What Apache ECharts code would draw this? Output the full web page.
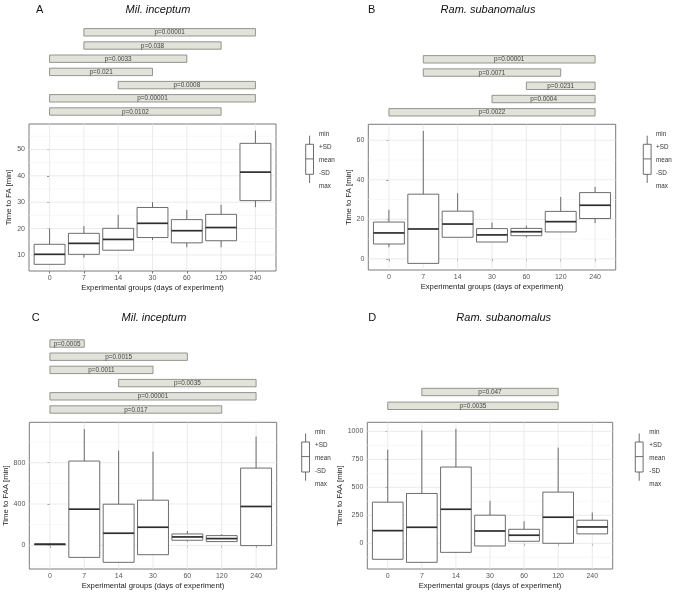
<!DOCTYPE html>
<html><head><meta charset="utf-8">
<script src="https://cdn.jsdelivr.net/npm/echarts@6/dist/echarts.min.js"></script>
<style>html,body{margin:0;padding:0;background:#fff}#c{width:678px;height:598px}</style>
</head><body><div id="c"></div>
<script>
// ---------------- DATA ----------------
const categories = ['0', '7', '14', '30', '60', '120', '240'];
const legendLabels = ['min', '+SD', 'mean', '-SD', 'max'];

// Panel A: Mil. inceptum, Time to FA [min]
const A_whiskerTop    = [20, 21, 25.2, 30, 27.1, 29, 57.1];
const A_sdUpper       = [14.05, 18.2, 20.1, 28, 23.4, 25.4, 52.3];
const A_mean          = [10.25, 14.4, 15.9, 22, 19.2, 20.4, 41.4];
const A_sdLower       = [6.46, 10.25, 11.8, 16.6, 14.6, 15.4, 30.6];
const A_whiskerBottom = [6.46, 9, 11.8, 15.7, 12.9, 12.9, 28.1];
const A_yTicks = [10, 20, 30, 40, 50];
const A_sig = [[1, 6, 'p=0.00001'], [1, 5, 'p=0.038'], [0, 4, 'p=0.0033'], [0, 3, 'p=0.021'], [2, 6, 'p=0.0008'], [0, 6, 'p=0.00001'], [0, 5, 'p=0.0102']];

// Panel B: Ram. subanomalus, Time to FA [min]
const B_whiskerTop    = [24.8, 64.7, 33.2, 18.3, 16.8, 31.3, 36.4];
const B_sdUpper       = [18.6, 32.7, 24.1, 15.3, 15.4, 24.0, 33.5];
const B_mean          = [13.1, 15.1, 17.6, 12.1, 13.7, 18.8, 27.1];
const B_sdLower       = [7.5, -2.3, 10.9, 8.5, 11.7, 13.6, 20.4];
const B_whiskerBottom = [5.9, -2.3, 10.9, 8.5, 10.9, 13.6, 18.1];
const B_yTicks = [0, 20, 40, 60];
const B_sig = [[1, 6, 'p=0.00001'], [1, 5, 'p=0.0071'], [4, 6, 'p=0.0231'], [3, 6, 'p=0.0004'], [0, 6, 'p=0.0022']];

// Panel C: Mil. inceptum, Time to FAA [min]
const C_whiskerTop    = [14, 1127, 917, 907, 139, 107, 1053];
const C_sdUpper       = [14, 816, 398, 437, 110, 94, 748];
const C_mean          = [10, 350, 117, 175, 81, 65, 376];
const C_sdLower       = [6, -117, -165, -91, 49, 36, -3];
const C_whiskerBottom = [6, -117, -165, -91, 36, 36, -3];
const C_yTicks = [0, 400, 800];
const C_sig = [[0, 1, 'p=0.0005'], [0, 4, 'p=0.0015'], [0, 3, 'p=0.0011'], [2, 6, 'p=0.0035'], [0, 6, 'p=0.00001'], [0, 5, 'p=0.017']];

// Panel D: Ram. subanomalus, Time to FAA [min]
const D_whiskerTop    = [836, 1009, 1021, 379, 197, 854, 275];
const D_sdUpper       = [367, 445, 681, 251, 125, 457, 206];
const D_mean          = [113, 143, 304, 110, 72, 233, 146];
const D_sdLower       = [-143, -170, -81, -24, 18, 0, 84];
const D_whiskerBottom = [-143, -170, -81, -24, 18, 0, 84];
const D_yTicks = [0, 250, 500, 750, 1000];
const D_sig = [[1, 5, 'p=0.047'], [0, 5, 'p=0.0035']];

// ---------------- LAYOUT ----------------
const FONT = 'Liberation Sans, Arial, sans-serif';
const panels = [
  { letter: 'A', species: 'Mil. inceptum', yName: 'Time to FA [min]',
    d: [A_whiskerTop, A_sdUpper, A_mean, A_sdLower, A_whiskerBottom], ticks: A_yTicks, sig: A_sig,
    grid: { left: 29, top: 124, width: 247, height: 147 }, sigGrid: { top: 25.7, height: 92.4 },
    letterPos: [36, 10], speciesX: 158, titleY: 10, key: { x: 305.7, labelX: 319, base: 134.3 } },
  { letter: 'B', species: 'Ram. subanomalus', yName: 'Time to FA [min]',
    d: [B_whiskerTop, B_sdUpper, B_mean, B_sdLower, B_whiskerBottom], ticks: B_yTicks, sig: B_sig,
    grid: { left: 368.3, top: 124.3, width: 247.4, height: 145.7 }, sigGrid: { top: 52.7, height: 66.2 },
    letterPos: [368, 10], speciesX: 488, titleY: 10, key: { x: 643.3, labelX: 656, base: 134.3 } },
  { letter: 'C', species: 'Mil. inceptum', yName: 'Time to FAA [min]',
    d: [C_whiskerTop, C_sdUpper, C_mean, C_sdLower, C_whiskerBottom], ticks: C_yTicks, sig: C_sig,
    grid: { left: 29.3, top: 422.3, width: 247.4, height: 146.7 }, sigGrid: { top: 336.9, height: 79.2 },
    letterPos: [31.7, 318.3], speciesX: 154, titleY: 318.3, key: { x: 301.7, labelX: 315, base: 432 } },
  { letter: 'D', species: 'Ram. subanomalus', yName: 'Time to FAA [min]',
    d: [D_whiskerTop, D_sdUpper, D_mean, D_sdLower, D_whiskerBottom], ticks: D_yTicks, sig: D_sig,
    grid: { left: 367.3, top: 422.3, width: 245.4, height: 146.7 }, sigGrid: { top: 385.1, height: 27.6 },
    letterPos: [368.3, 318.3], speciesX: 503.7, titleY: 318.3, key: { x: 635.3, labelX: 649.3, base: 432 } }
];

// ---------------- BUILD ----------------
const grids = [], xAxes = [], yAxes = [], series = [], graphics = [];
const catIdx = categories.map((c, i) => i);
const BOX_STROKE = '#5c5c5c', MEAN_STROKE = '#2e2e2e';

panels.forEach((p, pi) => {
  const all = [].concat(...p.d);
  const lo = Math.min(...all), hi = Math.max(...all), r = hi - lo;
  const yMin = lo - 0.05 * r, yMax = hi + 0.05 * r;
  const step = p.ticks[1] - p.ticks[0];
  const minor = p.ticks.map(t => t - step / 2).concat([p.ticks[p.ticks.length - 1] + step / 2]).filter(v => v > yMin && v < yMax);
  const major = p.ticks;

  const gMain = grids.length;
  grids.push(Object.assign({ show: true, borderColor: '#7a7a7a', borderWidth: 1, backgroundColor: 'transparent', containLabel: false }, p.grid));
  const gSig = grids.length;
  grids.push({ left: p.grid.left, width: p.grid.width, top: p.sigGrid.top, height: p.sigGrid.height, show: false, containLabel: false });

  xAxes.push({
    gridIndex: gMain, type: 'value', min: -0.6, max: 6.6,
    axisLine: { show: false }, splitLine: { show: false },
    axisTick: { show: true, length: 2.5, customValues: catIdx, lineStyle: { color: '#555', width: 0.8 } },
    axisLabel: { show: true, customValues: catIdx, formatter: v => categories[Math.round(v)], margin: 3.5, fontSize: 7, color: '#555', fontFamily: FONT },
    name: 'Experimental groups (days of experiment)', nameLocation: 'middle', nameGap: 12.5,
    nameTextStyle: { fontSize: 7.7, color: '#222', fontFamily: FONT }
  });
  yAxes.push({
    gridIndex: gMain, type: 'value', min: yMin, max: yMax,
    axisLine: { show: false }, splitLine: { show: false },
    axisTick: { show: true, length: 2.5, customValues: p.ticks, lineStyle: { color: '#555', width: 0.8 } },
    axisLabel: { show: true, customValues: p.ticks, formatter: v => String(v), margin: 4, fontSize: 7, color: '#555', fontFamily: FONT },
    name: p.yName, nameLocation: 'middle', nameGap: 15,
    nameTextStyle: { fontSize: 7.7, color: '#222', fontFamily: FONT }
  });
  const xMain = xAxes.length - 1, yMainI = yAxes.length - 1;

  xAxes.push({ gridIndex: gSig, type: 'value', min: -0.6, max: 6.6, show: false });
  yAxes.push({ gridIndex: gSig, type: 'value', min: -0.5, max: p.sig.length - 0.5, inverse: true, show: false });
  const xSig = xAxes.length - 1, ySig = yAxes.length - 1;

  // gridlines (minor + major horizontal, major vertical at categories)
  const gl = [];
  minor.forEach(v => gl.push([0, v, 0]));
  major.forEach(v => gl.push([0, v, 1]));
  catIdx.forEach(i => gl.push([1, i, 1]));
  series.push({
    type: 'custom', xAxisIndex: xMain, yAxisIndex: yMainI, z: 1, silent: true, clip: true,
    data: gl,
    renderItem: (params, api) => {
      const kind = api.value(0), v = api.value(1), isMajor = api.value(2);
      let a, b;
      if (kind === 0) { a = api.coord([-0.6, v]); b = api.coord([6.6, v]); }
      else { a = api.coord([v, yMin]); b = api.coord([v, yMax]); }
      return { type: 'line', shape: { x1: a[0], y1: a[1], x2: b[0], y2: b[1] },
        style: { stroke: isMajor ? '#e6e6e6' : '#f3f3f3', lineWidth: isMajor ? 0.8 : 0.6 } };
    }
  });

  // boxes
  const boxData = catIdx.map(i => [i, p.d[0][i], p.d[1][i], p.d[2][i], p.d[3][i], p.d[4][i]]);
  series.push({
    type: 'custom', xAxisIndex: xMain, yAxisIndex: yMainI, z: 3, silent: true,
    data: boxData,
    renderItem: (params, api) => {
      const x = api.value(0), wt = api.value(1), su = api.value(2), mn = api.value(3), sl = api.value(4), wb = api.value(5);
      const hw = 0.45;
      const tl = api.coord([x - hw, su]), br = api.coord([x + hw, sl]);
      const pwt = api.coord([x, wt]), psu = api.coord([x, su]), psl = api.coord([x, sl]), pwb = api.coord([x, wb]);
      const ml = api.coord([x - hw, mn]), mr = api.coord([x + hw, mn]);
      return { type: 'group', children: [
        { type: 'line', shape: { x1: pwt[0], y1: pwt[1], x2: psu[0], y2: psu[1] }, style: { stroke: BOX_STROKE, lineWidth: 0.9 } },
        { type: 'line', shape: { x1: pwb[0], y1: pwb[1], x2: psl[0], y2: psl[1] }, style: { stroke: BOX_STROKE, lineWidth: 0.9 } },
        { type: 'rect', shape: { x: tl[0], y: tl[1], width: br[0] - tl[0], height: br[1] - tl[1] }, style: { fill: '#fff', stroke: BOX_STROKE, lineWidth: 0.9 } },
        { type: 'line', shape: { x1: ml[0], y1: ml[1], x2: mr[0], y2: mr[1] }, style: { stroke: MEAN_STROKE, lineWidth: 1.7 } }
      ] };
    }
  });

  // significance bars
  const sigData = p.sig.map((s, k) => [s[0], s[1], k]);
  const sigLabels = p.sig.map(s => s[2]);
  series.push({
    type: 'custom', xAxisIndex: xSig, yAxisIndex: ySig, z: 3, silent: true, clip: false,
    data: sigData,
    renderItem: (params, api) => {
      const a = api.coord([api.value(0), api.value(2)]), b = api.coord([api.value(1), api.value(2)]);
      const h = 7.4;
      return { type: 'group', children: [
        { type: 'rect', shape: { x: a[0], y: a[1] - h / 2, width: b[0] - a[0], height: h }, style: { fill: '#e1e2d9', stroke: '#8a8a82', lineWidth: 0.9 } },
        { type: 'text', style: { text: sigLabels[params.dataIndex], x: (a[0] + b[0]) / 2, y: a[1] + 0.3, align: 'center', verticalAlign: 'middle', fontSize: 6.4, fill: '#444', fontFamily: FONT } }
      ] };
    }
  });

  // titles
  graphics.push({ type: 'text', x: p.letterPos[0], y: p.letterPos[1], style: { text: p.letter, fontSize: 11, fill: '#111', fontFamily: FONT, align: 'left', verticalAlign: 'middle' } });
  graphics.push({ type: 'text', x: p.speciesX, y: p.titleY, style: { text: p.species, fontSize: 11, fontStyle: 'italic', fill: '#111', fontFamily: FONT, align: 'center', verticalAlign: 'middle' } });

  // key legend
  const k = p.key, bw = 7.8, cx = k.x + bw / 2, b0 = k.base;
  graphics.push({ type: 'line', shape: { x1: cx, y1: b0 + 1.4, x2: cx, y2: b0 + 10 }, style: { stroke: BOX_STROKE, lineWidth: 0.9 } });
  graphics.push({ type: 'line', shape: { x1: cx, y1: b0 + 40, x2: cx, y2: b0 + 48.7 }, style: { stroke: BOX_STROKE, lineWidth: 0.9 } });
  graphics.push({ type: 'rect', shape: { x: k.x, y: b0 + 10, width: bw, height: 30 }, style: { fill: '#fff', stroke: BOX_STROKE, lineWidth: 0.9 } });
  graphics.push({ type: 'line', shape: { x1: k.x, y1: b0 + 24.6, x2: k.x + bw, y2: b0 + 24.6 }, style: { stroke: BOX_STROKE, lineWidth: 0.9 } });
  legendLabels.forEach((t, i) => {
    graphics.push({ type: 'text', x: k.labelX, y: b0 + i * 13.1, style: { text: t, fontSize: 6.3, fill: '#333', fontFamily: FONT, align: 'left', verticalAlign: 'middle' } });
  });
});

const chart = echarts.init(document.getElementById('c'), null, { renderer: 'canvas' });
chart.setOption({
  backgroundColor: '#fff',
  animation: false,
  grid: grids, xAxis: xAxes, yAxis: yAxes, series: series, graphic: graphics
});
</script>
</body></html>
